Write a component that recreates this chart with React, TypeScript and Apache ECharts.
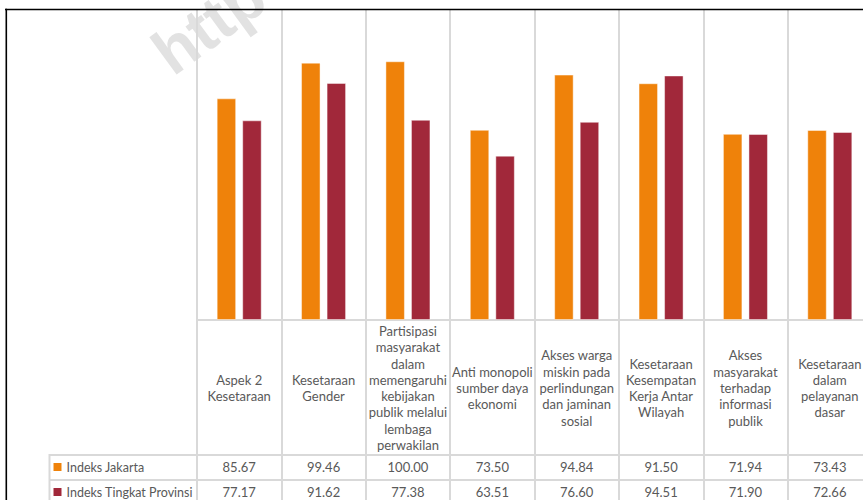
import React, { useEffect, useRef } from "react";
import * as echarts from "echarts";

const categories = [
  "Aspek 2\nKesetaraan",
  "Kesetaraan\nGender",
  "Partisipasi\nmasyarakat\ndalam\nmemengaruhi\nkebijakan\npublik melalui\nlembaga\nperwakilan",
  "Anti monopoli\nsumber daya\nekonomi",
  "Akses warga\nmiskin pada\nperlindungan\ndan jaminan\nsosial",
  "Kesetaraan\nKesempatan\nKerja Antar\nWilayah",
  "Akses\nmasyarakat\nterhadap\ninformasi\npublik",
  "Kesetaraan\ndalam\npelayanan\ndasar",
];
const seriesNames = ["Indeks Jakarta", "Indeks Tingkat Provinsi"];
const jakarta = [85.67, 99.46, 100.0, 73.5, 94.84, 91.5, 71.94, 73.43];
const provinsi = [77.17, 91.62, 77.38, 63.51, 76.6, 94.51, 71.9, 72.66];
const yMin = 0;
const yMax = 120;

const FONT = "Lato, 'Open Sans', sans-serif";
const TEXT = "#595959";
const GRID_LINE = "#d9d9d9";
const ORANGE = "#EF820A";
const RED = "#A1283A";

export default function App() {
  const ref = useRef<HTMLDivElement>(null);
  useEffect(() => {
    if (!ref.current) return;
    const chart = echarts.init(ref.current, null, { renderer: "svg" });
    const lineStyle = { color: GRID_LINE, width: 2 };
    const legendBase = {
      orient: "vertical",
      left: 53.5,
      padding: 0,
      itemWidth: 8,
      itemHeight: 8,
      icon: "rect",
      itemStyle: { borderWidth: 0 },
      textStyle: { color: TEXT, fontSize: 12.5, fontFamily: FONT, lineHeight: 16 },
    };
    chart.setOption({
      animation: false,
      backgroundColor: "#ffffff",
      textStyle: { fontFamily: FONT },
      grid: {
        left: 197,
        top: 9.5,
        right: 8,
        bottom: 180,
        containLabel: false,
        outerBoundsMode: "none",
      },
      legend: [
        { ...legendBase, top: 459, data: [seriesNames[0]] },
        { ...legendBase, top: 484, data: [seriesNames[1]] },
      ],
      xAxis: [
        {
          type: "category",
          data: categories,
          position: "bottom",
          axisLine: { show: true, lineStyle },
          axisTick: { show: true, interval: 0, length: 180, lineStyle },
          splitLine: { show: true, interval: 0, lineStyle },
          axisLabel: {
            interval: 0,
            margin: 68,
            verticalAlign: "middle",
            color: TEXT,
            fontSize: 13,
            lineHeight: 16.3,
            fontFamily: FONT,
          },
        },
        {
          type: "category",
          data: categories,
          position: "bottom",
          offset: 135,
          axisLine: { show: true, lineStyle },
          axisTick: { show: false },
          splitLine: { show: false },
          axisLabel: {
            interval: 0,
            margin: 12,
            verticalAlign: "middle",
            color: TEXT,
            fontSize: 13,
            fontFamily: FONT,
            formatter: (_v: string, i: number) => jakarta[i].toFixed(2),
          },
        },
        {
          type: "category",
          data: categories,
          position: "bottom",
          offset: 160,
          axisLine: { show: true, lineStyle },
          axisTick: { show: false },
          splitLine: { show: false },
          axisLabel: {
            interval: 0,
            margin: 12,
            verticalAlign: "middle",
            color: TEXT,
            fontSize: 13,
            fontFamily: FONT,
            formatter: (_v: string, i: number) => provinsi[i].toFixed(2),
          },
        },
      ],
      yAxis: {
        type: "value",
        min: yMin,
        max: yMax,
        show: false,
        splitLine: { show: false },
      },
      series: [
        {
          name: seriesNames[0],
          type: "bar",
          xAxisIndex: 0,
          data: jakarta,
          barWidth: 19.5,
          barGap: "31%",
          itemStyle: { color: ORANGE, borderColor: "rgba(255,255,255,0.45)", borderWidth: 1 },
        },
        {
          name: seriesNames[1],
          type: "bar",
          xAxisIndex: 0,
          data: provinsi,
          barWidth: 19.5,
          barGap: "31%",
          itemStyle: { color: RED, borderColor: "rgba(255,255,255,0.45)", borderWidth: 1 },
        },
      ],
      graphic: [
        {
          type: "text",
          x: 209,
          y: 24,
          rotation: (36 * Math.PI) / 180,
          z: -1,
          silent: true,
          style: {
            text: "http",
            font: "bold 64px 'Liberation Sans', Arial, sans-serif",
            fill: "rgba(190,190,190,0.45)",
            align: "center",
            verticalAlign: "middle",
            textAlign: "center",
            textVerticalAlign: "middle",
          },
        },
        {
          type: "line",
          silent: true,
          shape: { x1: 5, y1: 9.5, x2: 880, y2: 9.5 },
          style: { stroke: "#000", lineWidth: 1.6 },
          z: 10,
        },
        {
          type: "line",
          silent: true,
          shape: { x1: 6.3, y1: 8.7, x2: 6.3, y2: 500 },
          style: { stroke: "#000", lineWidth: 1.6 },
          z: 10,
        },
        {
          type: "line",
          silent: true,
          shape: { x1: 49.5, y1: 455, x2: 197, y2: 455 },
          style: { stroke: GRID_LINE, lineWidth: 2 },
        },
        {
          type: "line",
          silent: true,
          shape: { x1: 49.5, y1: 480, x2: 197, y2: 480 },
          style: { stroke: GRID_LINE, lineWidth: 2 },
        },
        {
          type: "line",
          silent: true,
          shape: { x1: 49.5, y1: 454, x2: 49.5, y2: 500 },
          style: { stroke: GRID_LINE, lineWidth: 2 },
        },
      ],
    });
    return () => chart.dispose();
  }, []);

  return (
    <div
      style={{
        position: "fixed",
        left: 0,
        top: 0,
        width: 863,
        height: 500,
        overflow: "hidden",
        background: "#fff",
      }}
    >
      <div ref={ref} style={{ width: 880, height: 500 }} />
    </div>
  );
}
